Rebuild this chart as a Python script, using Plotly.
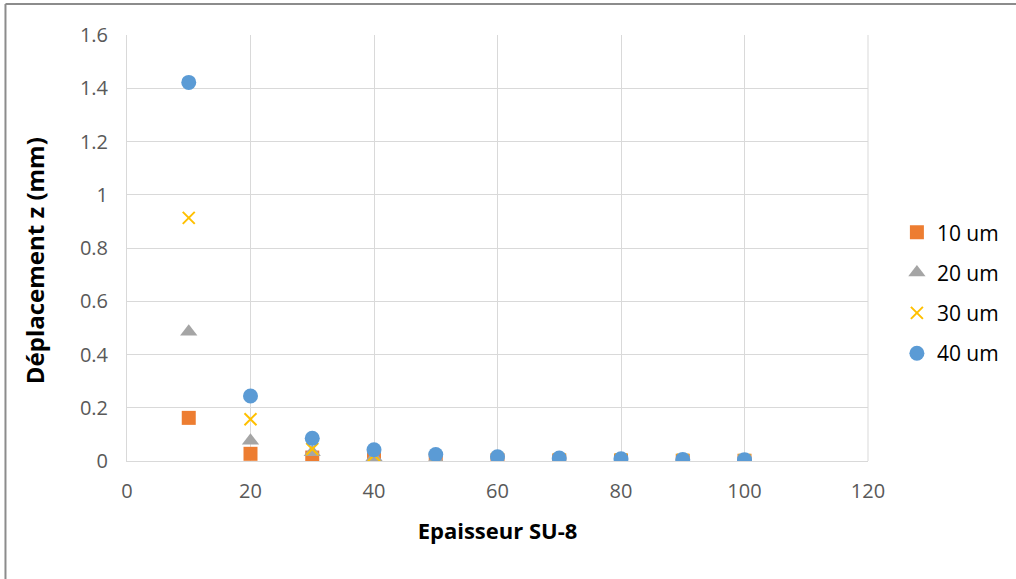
import plotly.graph_objects as go

epaisseur = [10, 20, 30, 40, 50, 60, 70, 80, 90, 100]
dep_10um = [0.162, 0.027, 0.013, 0.006, 0.004, 0.003, 0.002, 0.002, 0.001, 0.001]
dep_20um = [0.485, 0.076, 0.033, 0.014, 0.008, 0.005, 0.004, 0.003, 0.002, 0.002]
dep_30um = [0.913, 0.157, 0.045, 0.022, 0.013, 0.009, 0.006, 0.005, 0.004, 0.003]
dep_40um = [1.422, 0.244, 0.085, 0.042, 0.024, 0.016, 0.011, 0.008, 0.006, 0.005]
series_names = ["10 um", "20 um", "30 um", "40 um"]

x_ticks = [0, 20, 40, 60, 80, 100, 120]
y_ticks = [0, 0.2, 0.4, 0.6, 0.8, 1.0, 1.2, 1.4, 1.6]
y_ticktext = ["0", "0.2", "0.4", "0.6", "0.8", "1", "1.2", "1.4", "1.6"]

FONT = "Open Sans"

fig = go.Figure()
styles = [
    dict(symbol="square", color="#ED7D31", size=14),
    dict(symbol="triangle-up", color="#A5A5A5", size=15),
    dict(symbol="x-thin", color="#FFC000", size=12),
    dict(symbol="circle", color="#5B9BD5", size=15),
]
for i, (name, ys, st) in enumerate(zip(series_names, [dep_10um, dep_20um, dep_30um, dep_40um], styles)):
    marker = dict(symbol=st["symbol"], color=st["color"], size=st["size"])
    if st["symbol"] == "x-thin":
        marker["line"] = dict(color=st["color"], width=2)
    else:
        marker["line"] = dict(width=0)
    fig.add_trace(go.Scatter(x=epaisseur, y=ys, mode="markers", name=name, marker=marker,
                             legendgroup=f"g{i}"))

fig.update_layout(
    width=1016, height=579,
    margin=dict(l=127, r=148, t=35, b=118, autoexpand=False),
    paper_bgcolor="white", plot_bgcolor="white",
    font=dict(family=FONT, color="#595959", size=20),
    showlegend=True,
    legend=dict(
        x=1.039, y=0.394, xanchor="left", yanchor="middle",
        font=dict(family=FONT, size=21, color="#000000"),
        itemsizing="trace", tracegroupgap=10,
        bgcolor="rgba(0,0,0,0)",
    ),
    xaxis=dict(
        range=[0, 120], tickvals=x_ticks, showgrid=True, gridcolor="#D9D9D9", gridwidth=1,
        zeroline=False, showline=True, linecolor="#D9D9D9", mirror=False,
        ticks="", ticklabelstandoff=12,
        tickfont=dict(family=FONT, size=20, color="#595959"),
        title=dict(text="<b>Epaisseur SU-8</b>", font=dict(family=FONT, size=22, color="#000000"), standoff=20),
    ),
    yaxis=dict(
        range=[0, 1.6], tickvals=y_ticks, ticktext=y_ticktext, showgrid=True, gridcolor="#D9D9D9", gridwidth=1,
        zeroline=False, showline=True, linecolor="#D9D9D9",
        ticks="", ticklabelstandoff=14,
        tickfont=dict(family=FONT, size=20, color="#595959"),
    ),
    annotations=[
        dict(text="<b>Déplacement z (mm)</b>", textangle=-90, xref="paper", yref="paper",
             x=-0.1255, y=0.469, xanchor="center", yanchor="middle", showarrow=False,
             font=dict(family=FONT, size=24, color="#000000")),
    ],
    shapes=[
        dict(type="line", xref="paper", yref="paper", x0=-0.164, x1=1.2, y0=1.0728, y1=1.0728,
             line=dict(color="#8C8C8C", width=2)),
        dict(type="line", xref="paper", yref="paper", x0=-0.164, x1=-0.164, y0=1.0728, y1=-0.3,
             line=dict(color="#8C8C8C", width=2)),
        dict(type="line", xref="paper", yref="paper", x0=1, x1=1, y0=0, y1=1,
             line=dict(color="#D9D9D9", width=1)),
    ],
)

fig.write_html("out.html", config={"displayModeBar": False},
               post_script="document.body.style.margin='0';document.body.style.overflow='hidden';")
